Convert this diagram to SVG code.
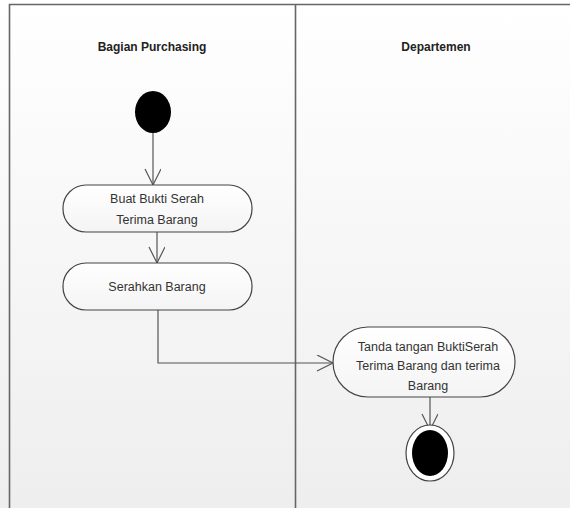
<svg xmlns="http://www.w3.org/2000/svg" width="570" height="508" viewBox="0 0 570 508">
  <defs>
    <linearGradient id="bg" x1="0" y1="0" x2="0" y2="1">
      <stop offset="0" stop-color="#ffffff"/>
      <stop offset="1" stop-color="#eeeeee"/>
    </linearGradient>
    <linearGradient id="act" x1="0" y1="0" x2="0" y2="1">
      <stop offset="0" stop-color="#ffffff"/>
      <stop offset="1" stop-color="#f4f4f4"/>
    </linearGradient>
    <marker id="open" markerWidth="20" markerHeight="20" refX="17" refY="8" orient="auto" markerUnits="userSpaceOnUse">
      <path d="M1,0 L17,8 L1,16" fill="none" stroke="#555" stroke-width="1.2"/>
    </marker>
  </defs>
  <style>
    .lane { stroke: #666; stroke-width: 1.6; fill: none; }
    .head { font-family: "Liberation Sans", Arial, sans-serif; font-size: 12px; font-weight: bold; fill: #222; text-anchor: middle; }
    .label { font-family: "Liberation Sans", Arial, sans-serif; font-size: 12.5px; fill: #333; text-anchor: middle; }
    .activity { fill: url(#act); stroke: #444; stroke-width: 1.2; }
    .flow { stroke: #555; stroke-width: 1.2; fill: none; marker-end: url(#open); }
  </style>

  <rect x="0" y="0" width="570" height="508" fill="url(#bg)"/>

  <!-- swimlane frame -->
  <g id="lanes">
    <path class="lane" d="M9.5,508 V4.5 H570"/>
    <path class="lane" d="M295.5,4.5 V508"/>
    <text class="head" x="152" y="51">Bagian Purchasing</text>
    <text class="head" x="436" y="51">Departemen</text>
  </g>

  <!-- connectors -->
  <g id="connectors">
    <path class="flow" d="M153,133 V185"/>
    <path class="flow" d="M157,232 V263"/>
    <path class="flow" d="M158,310 V363 H333"/>
    <path class="flow" d="M430,397 V430"/>
  </g>

  <g id="start">
    <ellipse cx="153" cy="112" rx="18" ry="21" fill="#000"/>
  </g>

  <g id="buat-bukti">
    <rect class="activity" x="63" y="185" width="189" height="47" rx="23" ry="23"/>
    <text class="label" x="157" y="203">Buat Bukti Serah</text>
    <text class="label" x="157" y="224">Terima Barang</text>
  </g>

  <g id="serahkan">
    <rect class="activity" x="63" y="263" width="189" height="47" rx="23" ry="23"/>
    <text class="label" x="157" y="291">Serahkan Barang</text>
  </g>

  <g id="tanda-tangan">
    <rect class="activity" x="333" y="327" width="182" height="70" rx="35" ry="35"/>
    <text class="label" x="428" y="351">Tanda tangan BuktiSerah</text>
    <text class="label" x="428" y="370">Terima Barang dan terima</text>
    <text class="label" x="428" y="390">Barang</text>
  </g>

  <g id="end">
    <ellipse cx="430" cy="453" rx="24" ry="28" fill="#fff" stroke="#444" stroke-width="1.2"/>
    <ellipse cx="430" cy="453" rx="18" ry="23" fill="#000"/>
  </g>
</svg>
